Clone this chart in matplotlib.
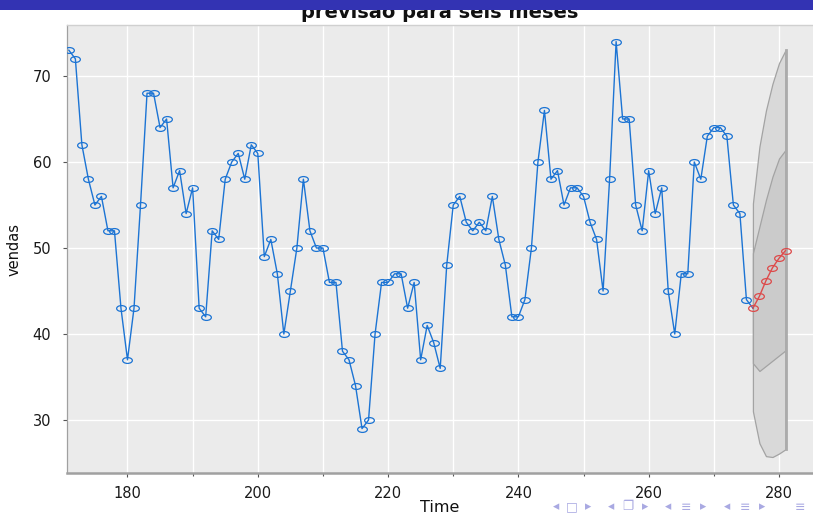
import numpy as np
import matplotlib
matplotlib.use("Agg")
import matplotlib.pyplot as plt
from matplotlib.path import Path
from matplotlib.patches import Rectangle

# ---------------- data ----------------
time_obs = list(range(171, 276))
vendas = [73, 72, 62, 58, 55, 56, 52, 52, 43, 37,
          43, 55, 68, 68, 64, 65, 57, 59, 54, 57,
          43, 42, 52, 51, 58, 60, 61, 58, 62, 61,
          49, 51, 47, 40, 45, 50, 58, 52, 50, 50,
          46, 46, 38, 37, 34, 29, 30, 40, 46, 46,
          47, 47, 43, 46, 37, 41, 39, 36, 48, 55,
          56, 53, 52, 53, 52, 56, 51, 48, 42, 42,
          44, 50, 60, 66, 58, 59, 55, 57, 57, 56,
          53, 51, 45, 58, 74, 65, 65, 55, 52, 59,
          54, 57, 45, 40, 47, 47, 60, 58, 63, 64,
          64, 63, 55, 54, 44]
time_fc = [276, 277, 278, 279, 280, 281]
fc_mean = [43.0, 44.4, 46.2, 47.7, 48.8, 49.7]
lo80 = [36.6, 35.7, 36.3, 36.9, 37.5, 38.1]
hi80 = [49.4, 52.5, 55.6, 58.3, 60.4, 61.4]
lo95 = [31.0, 27.3, 25.8, 25.7, 26.1, 26.6]
hi95 = [55.2, 61.8, 66.0, 69.1, 71.5, 73.0]
xticks_major = [180, 200, 220, 240, 260, 280]
xticks_minor = [190, 210, 230, 250, 270]
yticks = [30, 40, 50, 60, 70]

title = "previsão para seis meses"
xlabel = "Time"
ylabel = "vendas"

# ---------------- figure ----------------
W, H = 813, 516
fig = plt.figure(figsize=(W / 100, H / 100), dpi=100)
fig.patch.set_facecolor("white")

left_px, right_px, top_px, bot_px = 66.7, 813, 25, 473
ax = fig.add_axes([left_px / W, 1 - bot_px / H,
                   (right_px - left_px) / W, (bot_px - top_px) / H])
ax.set_facecolor("#EBEBEB")

# ellipse marker (wider than tall)
circ = Path.unit_circle()
ell = Path(circ.vertices * np.array([1.0, 0.6]), circ.codes)

blue = "#1C74D4"
red = "#DD4B4B"

# prediction intervals
ax.fill_between(time_fc, lo95, hi95, facecolor="#D9D9D9", edgecolor="#A3A3A3",
                linewidth=0.9, zorder=2)
ax.fill_between(time_fc, lo80, hi80, facecolor="#CBCBCB", edgecolor="#A3A3A3",
                linewidth=0.9, zorder=2.1)
ax.plot([time_fc[-1], time_fc[-1]], [lo95[-1], hi95[-1]], color="#ABABAB",
        linewidth=2.0, zorder=2.2)

# observed series
ax.plot(time_obs + [time_fc[0]], vendas + [fc_mean[0]], color=blue,
        linewidth=1.0, zorder=3)
ax.plot(time_obs, vendas, linestyle="none", marker=ell, markersize=7,
        markerfacecolor="none", markeredgecolor=blue, markeredgewidth=0.9,
        zorder=3.1)
# forecast
ax.plot(time_fc, fc_mean, color=red, linewidth=1.0, marker=ell, markersize=7,
        markerfacecolor="none", markeredgecolor=red, markeredgewidth=0.9,
        zorder=3.2)

ax.set_xlim(170.67, 285.22)
ax.set_ylim(23.84, 75.93)

ax.set_xticks(xticks_major)
ax.set_xticks(xticks_minor, minor=True)
ax.set_yticks(yticks)
ax.set_xticklabels([str(v) for v in xticks_major])
ax.set_yticklabels([str(v) for v in yticks])

ax.grid(True, which="major", color="white", linewidth=1.0, zorder=0)
ax.grid(True, which="minor", axis="x", color="white", linewidth=1.0, zorder=0)
ax.set_axisbelow(True)

ax.tick_params(axis="both", which="major", length=3, width=0.8,
               color="#555555", labelsize=10.5, labelcolor="#1A1A1A")
ax.tick_params(axis="x", which="major", pad=6)
ax.tick_params(axis="y", which="major", pad=8)
ax.tick_params(axis="x", which="minor", length=2, width=0.8, color="#555555")

ax.spines["right"].set_visible(False)
ax.spines["top"].set_color("#D0D0D0")
ax.spines["top"].set_linewidth(1.0)
ax.spines["left"].set_color("#A0A0A0")
ax.spines["left"].set_linewidth(0.9)
ax.spines["bottom"].set_color("#A0A0A0")
ax.spines["bottom"].set_linewidth(1.8)

fig.text(440 / W, 1 - 508 / H, xlabel, ha="center", va="center",
         fontsize=11.5, color="#111111")
fig.text(14 / W, 1 - 249 / H, ylabel, ha="center", va="center", rotation=90,
         fontsize=10.5, color="#111111",
         family=["Liberation Sans Narrow", "DejaVu Sans"])

# title, partly hidden under the beamer header bar
fig.text(440 / W, 1 - 18.5 / H, title, ha="center", va="baseline",
         fontsize=14, fontweight="bold", color="#111111", zorder=1)
fig.patches.append(Rectangle((0, 1 - 9.5 / H), 1, 9.5 / H,
                             transform=fig.transFigure, facecolor="#3333B3",
                             edgecolor="none", zorder=10))

# beamer navigation symbols
nav = [(556, "◂"), (572, "□"), (588, "▸"), (611, "◂"), (628, "❐"), (645, "▸"),
       (668, "◂"), (686, "≡"), (703, "▸"), (727, "◂"), (745, "≡"), (762, "▸"),
       (800, "≡")]
for xp, ch in nav:
    fig.text(xp / W, 1 - 507 / H, ch, ha="center", va="center", fontsize=9,
             color="#A9A9E2", family=["DejaVu Sans"])

fig.savefig("out.png", dpi=100)
